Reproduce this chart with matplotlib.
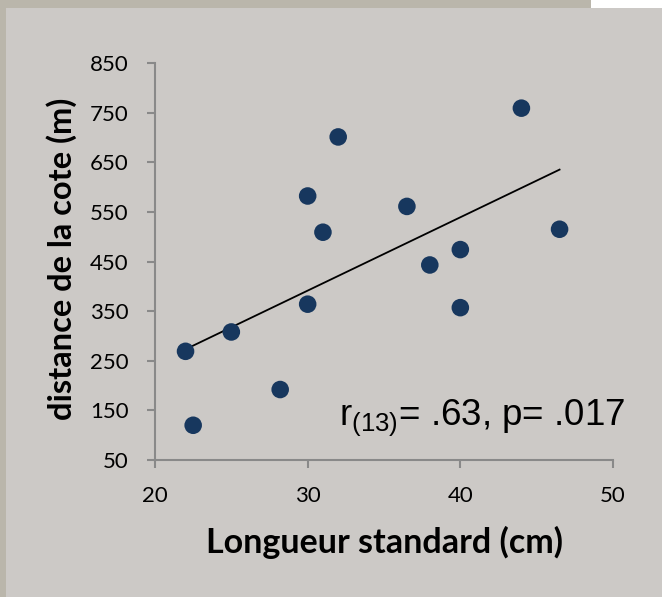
import numpy as np
import matplotlib
matplotlib.use("Agg")
import matplotlib.pyplot as plt
from matplotlib.patches import Rectangle

# Data
longueur = [22, 22.5, 25, 28.2, 30, 30, 31, 32, 36.5, 38, 40, 40, 44, 46.5]
distance = [269, 120, 308, 192, 364, 582, 509, 701, 561, 443, 474, 357, 759, 515]
x_ticks = [20, 30, 40, 50]
y_ticks = [50, 150, 250, 350, 450, 550, 650, 750, 850]
x_label = "Longueur standard (cm)"
y_label = "distance de la cote (m)"
annotation = r"$\mathregular{r_{(13)}}$= .63, p= .017"

W, H = 662, 597
bg = "#ccc9c6"
strip = "#bab6ab"
marker_color = "#17375e"
spine_color = "#898989"

plt.rcParams["mathtext.fontset"] = "custom"
plt.rcParams["mathtext.rm"] = "Liberation Sans"

fig = plt.figure(figsize=(W / 100, H / 100), dpi=100, facecolor=bg)

# decorative strips
top_h = 8
fig.patches.append(Rectangle((0, 1 - top_h / H), 591 / W, top_h / H, transform=fig.transFigure,
                             facecolor=strip, edgecolor="none", zorder=0))
fig.patches.append(Rectangle((591 / W, 1 - top_h / H), 1 - 591 / W, top_h / H, transform=fig.transFigure,
                             facecolor="white", edgecolor="none", zorder=0))
fig.patches.append(Rectangle((0, 0), 6 / W, 1, transform=fig.transFigure,
                             facecolor=strip, edgecolor="none", zorder=0))

left, right, top, bottom = 155, 613, 63, 460
ax = fig.add_axes([left / W, 1 - bottom / H, (right - left) / W, (bottom - top) / H])
ax.set_facecolor(bg)
ax.patch.set_alpha(0)

ax.scatter(longueur, distance, s=160, color=marker_color, edgecolors="none", zorder=3)

# linear trendline over data range
coef = np.polyfit(longueur, distance, 1)
xs = np.array([min(longueur), max(longueur)])
ax.plot(xs, np.polyval(coef, xs), color="black", lw=1.3, zorder=2)

ax.set_xlim(20, 50)
ax.set_ylim(50, 850)
ax.set_xticks(x_ticks)
ax.set_yticks(y_ticks)
for sp in ["top", "right"]:
    ax.spines[sp].set_visible(False)
for sp in ["left", "bottom"]:
    ax.spines[sp].set_color(spine_color)
    ax.spines[sp].set_linewidth(1.5)
ax.tick_params(direction="out", length=6, width=1.5, color=spine_color, pad=13,
               labelsize=16, labelcolor="black")
for lab in ax.get_xticklabels() + ax.get_yticklabels():
    lab.set_family("Lato")

fig.text(385 / W, 1 - 553 / H, x_label, fontsize=24.5, fontweight="bold", family="Lato",
         ha="center", va="baseline")
fig.text(62 / W, 1 - 258.5 / H, y_label, fontsize=23.5, fontweight="bold", family="Lato",
         ha="center", va="center", rotation=90)

ax.text(339 / W, 1 - 425 / H, annotation, transform=fig.transFigure,
        fontsize=26.5, family="Liberation Sans", ha="left", va="baseline")

fig.savefig("out.png", dpi=100, facecolor=bg)
